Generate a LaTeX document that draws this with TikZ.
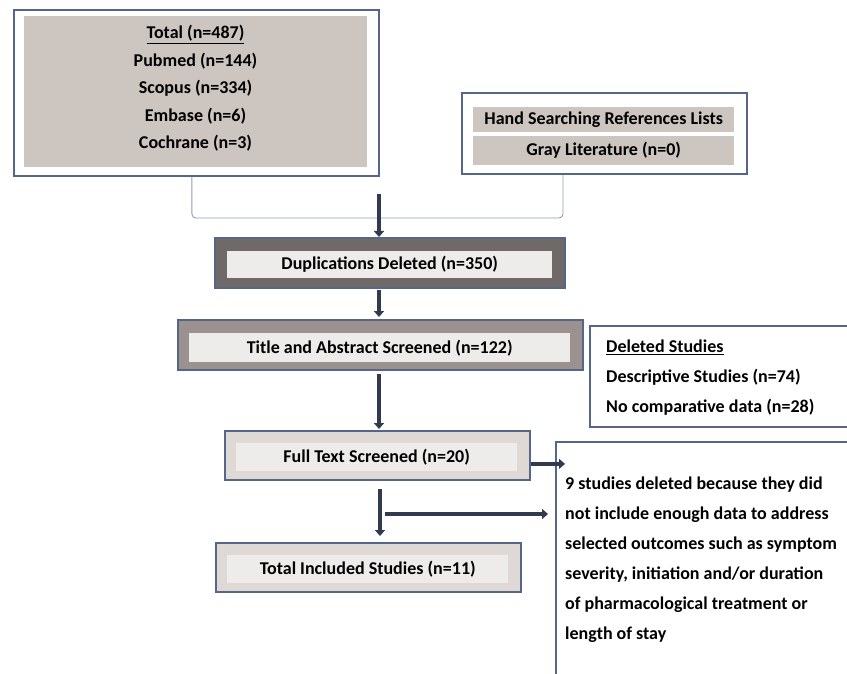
\documentclass[tikz,border=0pt]{standalone}
\usepackage{fontspec}
\setmainfont{Carlito}
\usetikzlibrary{arrows.meta}
\definecolor{boxline}{HTML}{56658A}
\definecolor{bracketcol}{HTML}{8A9BC0}
\definecolor{arrowcol}{HTML}{323A4F}
\definecolor{srcfill}{HTML}{CDC5C0}
\definecolor{dupfill}{HTML}{6F6A67}
\definecolor{titlefill}{HTML}{9B928F}
\definecolor{lightfill}{HTML}{DED9D5}
\definecolor{innerfill}{HTML}{EEECEA}

\begin{document}
\begin{tikzpicture}[x=1pt,y=-1pt,
  outerbox/.style={draw=boxline,line width=1.8pt,anchor=north west,inner sep=0pt},
  innerbox/.style={anchor=north west,inner sep=0pt,font=\bfseries\fontsize{18}{22}\selectfont},
  plaintext/.style={inner sep=0pt,font=\bfseries\fontsize{18}{30}\selectfont},
  bracket/.style={draw=bracketcol,line width=0.9pt,rounded corners=4pt},
  flowarrow/.style={draw=arrowcol,line width=3.5pt,-{Triangle[width=10pt,length=6pt]}}]
  \useasboundingbox (0,0) rectangle (847,674);
  \clip (0,0) rectangle (847,674);

  %database search
  \node[outerbox,fill=white,minimum width=365pt,minimum height=166pt] (srcbox) at (13,9) {};
  \node[innerbox,fill=srcfill,minimum width=343pt,minimum height=151pt] (srcin) at (24,16) {};
  \node[plaintext,align=center,font=\bfseries\fontsize{18}{27.5}\selectfont] (srctext) at (195.5,88.5)
    {\underline{Total (n=487)}\\Pubmed (n=144)\\Scopus (n=334)\\Embase (n=6)\\Cochrane (n=3)};

  %other sources
  \node[outerbox,fill=white,minimum width=285pt,minimum height=81pt] (handbox) at (461,92) {};
  \node[innerbox,fill=srcfill,minimum width=261pt,minimum height=25pt] (handrow) at (473,107) {Hand Searching References Lists};
  \node[innerbox,fill=srcfill,minimum width=261pt,minimum height=29pt] (grayrow) at (473,136) {Gray Literature (n=0)};

  %bracket joining both sources
  \coordinate (join) at (379,218);
  \draw[bracket] ([xshift=-4.5pt]srcbox.south) |- (join) -| ([xshift=102pt]handbox.south west);

  %screening steps
  \node[outerbox,fill=dupfill,minimum width=350pt,minimum height=50pt] (dupbox) at (214,237) {};
  \node[innerbox,fill=innerfill,minimum width=325pt,minimum height=27pt] (dupin) at (227,251) {Duplications Deleted (n=350)};

  \node[outerbox,fill=titlefill,minimum width=405pt,minimum height=50pt] (titlebox) at (177,319) {};
  \node[innerbox,fill=innerfill,minimum width=381pt,minimum height=29pt] (titlein) at (189,333) {Title and Abstract Screened (n=122)};

  \node[outerbox,fill=lightfill,minimum width=305pt,minimum height=49pt] (fullbox) at (224,430) {};
  \node[innerbox,fill=innerfill,minimum width=281pt,minimum height=28pt] (fullin) at (236,443) {Full Text Screened (n=20)};

  \node[outerbox,fill=lightfill,minimum width=305pt,minimum height=49pt] (totalbox) at (215,542) {};
  \node[innerbox,fill=innerfill,minimum width=281pt,minimum height=28pt] (totalin) at (227,555) {Total Included Studies (n=11)};

  %excluded studies
  \node[outerbox,minimum width=300pt,minimum height=101pt] (delbox) at (589,325) {};
  \node[plaintext,align=left,anchor=north west] (deltext) at (606,340)
    {\underline{Deleted Studies}\\Descriptive Studies (n=74)\\No comparative data (n=28)};

  \node[outerbox,minimum width=320pt,minimum height=260pt] (ninebox) at (555,441) {};
  \node[plaintext,align=left,anchor=north west] (ninetext) at (565,477)
    {9 studies deleted because they did\\not include enough data to address\\selected outcomes such as symptom\\severity, initiation and/or duration\\of pharmacological treatment or\\length of stay};

  %arrows
  \draw[flowarrow] ([yshift=24pt]join) -- (join |- dupbox.north);
  \draw[flowarrow,shorten <=1pt,shorten >=2pt] (join |- dupbox.south) -- (join |- titlebox.north);
  \draw[flowarrow,shorten <=3pt,shorten >=1pt] (join |- titlebox.south) -- (join |- fullbox.north);
  \draw[flowarrow,shorten <=8pt,shorten >=6pt] ([xshift=1pt]join |- fullbox.south) -- ([xshift=1pt]join |- totalbox.north);
  \coordinate (split) at (385,514);
  \draw[flowarrow,shorten >=7pt] (split) -- (split -| ninebox.west);
  \coordinate (fullout) at ([yshift=-8.5pt]fullbox.east);
  \draw[flowarrow] (fullout) -- ([xshift=10pt]ninebox.west |- fullout);
\end{tikzpicture}
\end{document}
